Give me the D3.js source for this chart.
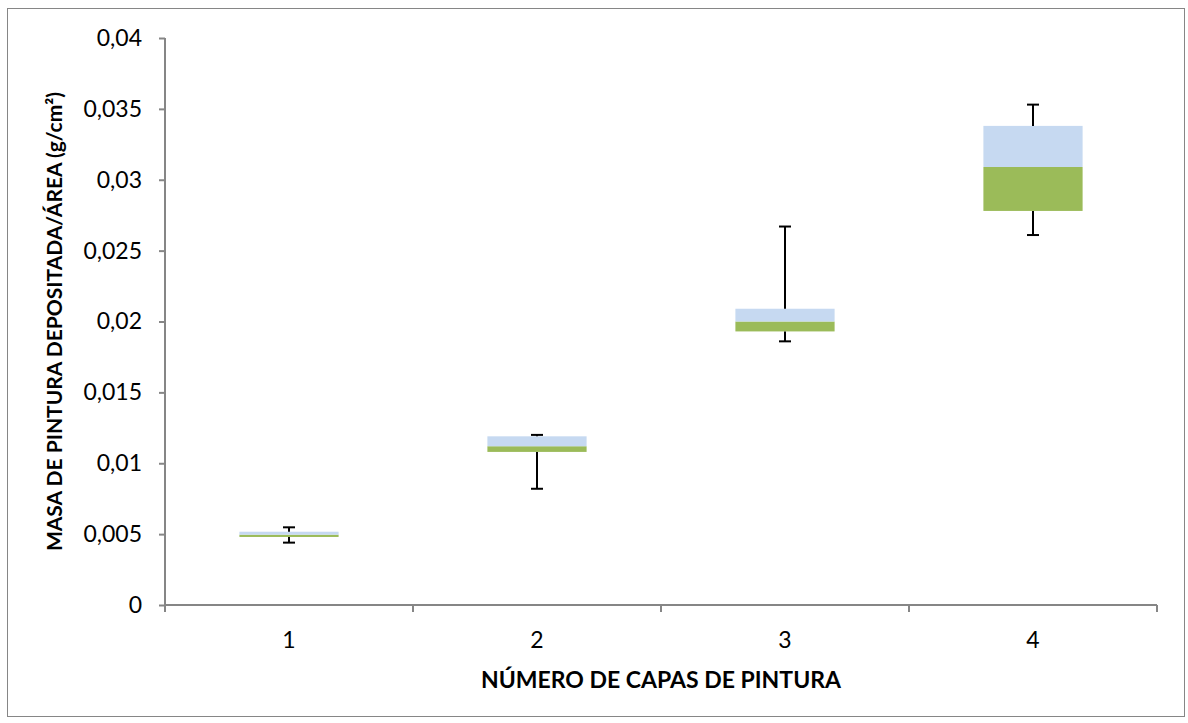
<!DOCTYPE html>
<html>
<head>
<meta charset="utf-8">
<script src="https://cdnjs.cloudflare.com/ajax/libs/d3/7.8.5/d3.min.js"></script>
<style>
  body { margin: 0; background: #fff; }
  svg text { font-family: Lato, "Open Sans", sans-serif; fill: #000; }
</style>
</head>
<body>
<div id="chart-area"></div>
<script>
// Box plot data
var categories = ['1', '2', '3', '4'];
var minVals = [0.0044, 0.0082, 0.0186, 0.0261];
var q1Vals = [0.0048, 0.0108, 0.0193, 0.0278];
var medianVals = [0.00496, 0.0112, 0.0200, 0.0309];
var q3Vals = [0.00517, 0.0119, 0.0209, 0.0338];
var maxVals = [0.00548, 0.0120, 0.0267, 0.0353];
var yTicks = [0, 0.005, 0.01, 0.015, 0.02, 0.025, 0.03, 0.035, 0.04];

var W = 1188, H = 723;
var margin = {top: 38, left: 165, right: 31, bottom: 118};
var width = W - margin.left - margin.right;
var height = H - margin.top - margin.bottom;

var svgRoot = d3.select('#chart-area')
  .append('svg')
    .attr('width', W)
    .attr('height', H);

// chart border
svgRoot.append('rect')
  .attr('x', 7.5)
  .attr('y', 8.5)
  .attr('width', 1177)
  .attr('height', 708)
  .attr('fill', 'none')
  .attr('stroke', '#868686')
  .attr('stroke-width', 1);

var svg = svgRoot.append('g')
  .attr('transform', 'translate(' + margin.left + ',' + margin.top + ')');

var x = d3.scaleBand()
  .domain(categories)
  .range([0, width])
  .paddingInner(0.6)
  .paddingOuter(0.3);

var y = d3.scaleLinear()
  .domain([0, 0.04])
  .range([height, 0]);

// Axes
var fmt = function(d) { return d === 0 ? '0' : String(+d.toFixed(3)).replace('.', ','); };

var yAxis = svg.append('g')
  .attr('class', 'y-axis')
  .call(d3.axisLeft(y).tickValues(yTicks).tickFormat(fmt).tickSize(6).tickPadding(17));

var xBounds = d3.range(categories.length + 1).map(function(i) { return i * width / categories.length; });
var xAxis = svg.append('g')
  .attr('class', 'x-axis')
  .attr('transform', 'translate(0,' + height + ')');
xAxis.append('line')
  .attr('x1', 0).attr('x2', width)
  .attr('stroke', '#868686').attr('stroke-width', 2);
xAxis.selectAll('.xt').data(xBounds).enter().append('line')
  .attr('class', 'xt')
  .attr('x1', function(d) { return d; })
  .attr('x2', function(d) { return d; })
  .attr('y1', 0).attr('y2', 7)
  .attr('stroke', '#868686').attr('stroke-width', 2);
xAxis.selectAll('.xl').data(categories).enter().append('text')
  .attr('class', 'xl')
  .attr('x', function(d) { return x(d) + x.bandwidth() / 2; })
  .attr('y', 43)
  .attr('text-anchor', 'middle')
  .attr('font-size', '23px')
  .text(function(d) { return d; });

yAxis.select('.domain').attr('stroke', '#868686').attr('stroke-width', 2)
  .attr('d', 'M0,0V' + (height + 7));
yAxis.selectAll('.tick line').attr('stroke', '#868686').attr('stroke-width', 2);
yAxis.selectAll('.tick text').attr('font-size', '23px').attr('font-family', 'Lato, sans-serif');

// Boxes: lower half (Q1 to median) green, upper half (median to Q3) light blue
var boxes = svg.selectAll('.box').data(categories).enter().append('g').attr('class', 'box');

boxes.append('rect')
  .attr('x', function(d) { return x(d); })
  .attr('width', x.bandwidth())
  .attr('y', function(d, i) { return y(medianVals[i]); })
  .attr('height', function(d, i) { return y(q1Vals[i]) - y(medianVals[i]); })
  .attr('fill', '#9BBB59');

boxes.append('rect')
  .attr('x', function(d) { return x(d); })
  .attr('width', x.bandwidth())
  .attr('y', function(d, i) { return y(q3Vals[i]); })
  .attr('height', function(d, i) { return y(medianVals[i]) - y(q3Vals[i]); })
  .attr('fill', '#C6D9F1');

// Whiskers
var cx = function(d) { return x(d) + x.bandwidth() / 2; };
boxes.append('line')
  .attr('x1', cx).attr('x2', cx)
  .attr('y1', function(d, i) { return y(q3Vals[i]); })
  .attr('y2', function(d, i) { return y(maxVals[i]); })
  .attr('stroke', '#000').attr('stroke-width', 2);
boxes.append('line')
  .attr('x1', cx).attr('x2', cx)
  .attr('y1', function(d, i) { return y(q1Vals[i]); })
  .attr('y2', function(d, i) { return y(minVals[i]); })
  .attr('stroke', '#000').attr('stroke-width', 2);
boxes.append('line')
  .attr('x1', function(d) { return cx(d) - 6; })
  .attr('x2', function(d) { return cx(d) + 6; })
  .attr('y1', function(d, i) { return y(maxVals[i]); })
  .attr('y2', function(d, i) { return y(maxVals[i]); })
  .attr('stroke', '#000').attr('stroke-width', 2);
boxes.append('line')
  .attr('x1', function(d) { return cx(d) - 6; })
  .attr('x2', function(d) { return cx(d) + 6; })
  .attr('y1', function(d, i) { return y(minVals[i]); })
  .attr('y2', function(d, i) { return y(minVals[i]); })
  .attr('stroke', '#000').attr('stroke-width', 2);

// Axis titles
svg.append('text')
  .attr('x', width / 2)
  .attr('y', height + 83)
  .attr('text-anchor', 'middle')
  .attr('font-size', '23px')
  .attr('font-weight', 'bold')
  .text('NÚMERO DE CAPAS DE PINTURA');

svg.append('text')
  .attr('transform', 'translate(' + (-103) + ',' + (height / 2) + ') rotate(-90)')
  .attr('text-anchor', 'middle')
  .attr('font-size', '21px')
  .attr('font-weight', 'bold')
  .text('MASA DE PINTURA DEPOSITADA/ÁREA (g/cm²)');
</script>
</body>
</html>
